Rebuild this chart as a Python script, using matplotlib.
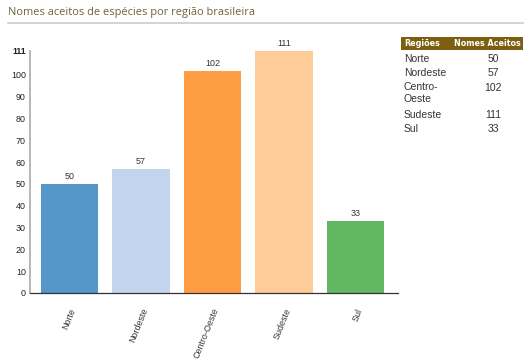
import matplotlib
matplotlib.use('Agg')
import matplotlib.pyplot as plt
from matplotlib.patches import Rectangle

regioes = ['Norte', 'Nordeste', 'Centro-Oeste', 'Sudeste', 'Sul']
tabela_regioes = ['Norte', 'Nordeste', 'Centro-\nOeste', 'Sudeste', 'Sul']
nomes_aceitos = [50, 57, 102, 111, 33]
cores = ['#5597c9', '#c3d5ee', '#ff9d45', '#ffcc99', '#62b760']
y_ticks = [0, 10, 20, 30, 40, 50, 60, 70, 80, 90, 100, 111]

W, H = 529, 359
fig = plt.figure(figsize=(W / 100, H / 100), dpi=100)
fig.patch.set_facecolor('white')

# title + gray rule under it
fig.text(8 / W, 1 - 12 / H, 'Nomes aceitos de espécies por região brasileira',
         fontsize=7.9, color='#6e6236', family='Open Sans', va='center', ha='left')
fig.add_artist(plt.Line2D([8 / W, 523 / W], [1 - 22.5 / H, 1 - 22.5 / H],
                          color='#cccccc', linewidth=1.2))

ax = fig.add_axes([30 / W, 1 - 293 / H, 368 / W, 242 / H])
x = list(range(len(regioes)))
bars = ax.bar(x, nomes_aceitos, width=0.8, color=cores)
for b, v in zip(bars, nomes_aceitos):
    ax.text(b.get_x() + b.get_width() / 2, v + 1.2, str(v), ha='center', va='bottom',
            fontsize=6.4, color='#333333', family='Liberation Sans')

ax.set_xlim(-0.552, 4.594)
ax.set_ylim(0, 111)
ax.set_yticks(y_ticks)
ax.set_yticklabels([str(t) for t in y_ticks], fontsize=6.4, family='Liberation Sans', color='#222222')
ax.get_yticklabels()[-1].set_fontweight('bold')
ax.set_xticks(x)
ax.set_xticklabels(regioes, rotation=68, ha='right', va='top', rotation_mode='anchor',
                   fontsize=6.4, family='Liberation Sans', color='#333333')
ax.tick_params(axis='both', length=0, pad=3)
ax.tick_params(axis='x', pad=10)
for s in ['top', 'right']:
    ax.spines[s].set_visible(False)
ax.spines['left'].set_color('#aaaaaa')
ax.spines['left'].set_linewidth(1.2)
ax.spines['bottom'].set_color('#333333')
ax.spines['bottom'].set_linewidth(0.9)

# side table
fig.add_artist(Rectangle((401 / W, 1 - 50 / H), 122 / W, 13 / H, transform=fig.transFigure,
                         facecolor='#7d5f10', edgecolor='none'))
fig.text(404 / W, 1 - 43.5 / H, 'Regiões', fontsize=5.8, color='white', weight='bold',
         family='Liberation Sans Narrow', va='center', ha='left')
fig.text(521 / W, 1 - 43.5 / H, 'Nomes Aceitos', fontsize=5.8, color='white', weight='bold',
         family='Liberation Sans Narrow', va='center', ha='right')
row_y = [59, 73, 88, 115, 129]
for nome, val, yy in zip(tabela_regioes, nomes_aceitos, row_y):
    if '\n' in nome:
        fig.text(404 / W, 1 - (yy - 6) / H, nome, fontsize=7.5, color='#333333',
                 family='Liberation Sans', va='top', ha='left', linespacing=1.25)
    else:
        fig.text(404 / W, 1 - yy / H, nome, fontsize=7.5, color='#333333',
                 family='Liberation Sans', va='center', ha='left')
    fig.text(493 / W, 1 - yy / H, str(val), fontsize=7.5,
             color='#333333', family='Liberation Sans', va='center', ha='center')

fig.savefig('out.png', dpi=100)
